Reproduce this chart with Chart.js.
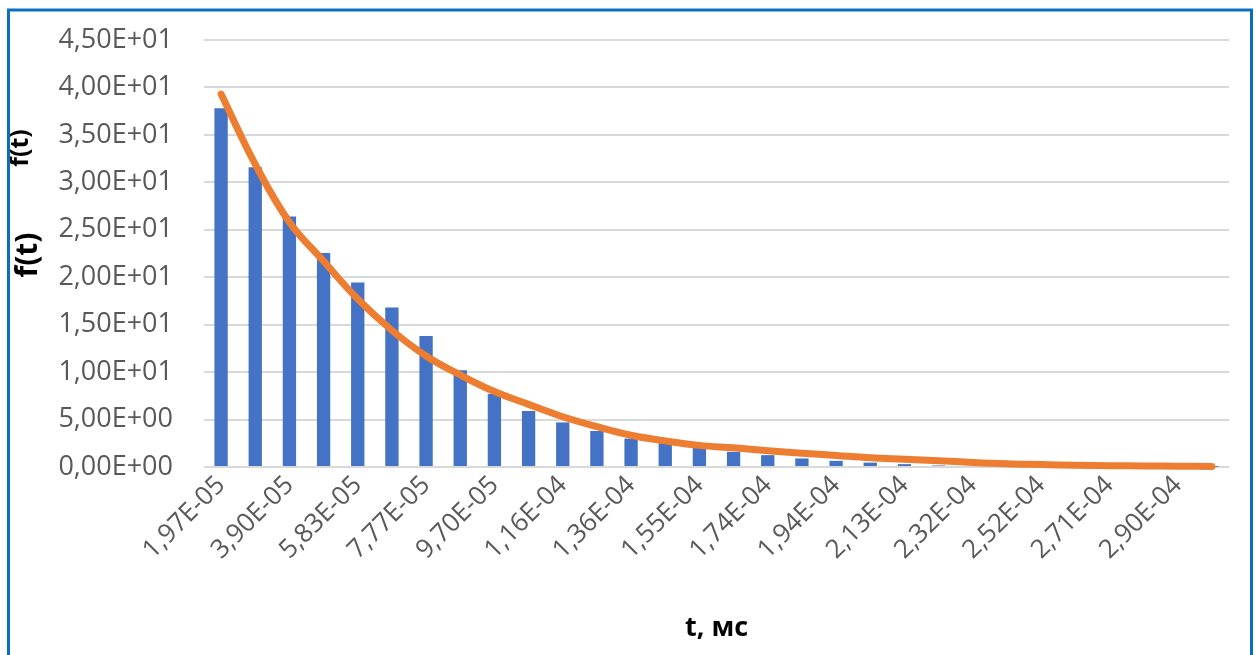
<!DOCTYPE html>
<html>
<head>
<meta charset="utf-8">
<script src="https://cdn.jsdelivr.net/npm/chart.js@4/dist/chart.umd.min.js"></script>
<style>
  html, body { margin: 0; padding: 0; background: #ffffff; }
  canvas { display: block; }
</style>
</head>
<body>
<canvas id="chart" width="1256" height="655"></canvas>
<script>
// Time samples t (ms), shown as axis categories
const tLabels = [
  '1,97E-05', '2,94E-05', '3,90E-05', '4,87E-05', '5,83E-05', '6,80E-05',
  '7,77E-05', '8,73E-05', '9,70E-05', '1,07E-04', '1,16E-04', '1,26E-04',
  '1,36E-04', '1,45E-04', '1,55E-04', '1,65E-04', '1,74E-04', '1,84E-04',
  '1,94E-04', '2,03E-04', '2,13E-04', '2,23E-04', '2,32E-04', '2,42E-04',
  '2,52E-04', '2,61E-04', '2,71E-04', '2,81E-04', '2,90E-04', '3,00E-04'
];

// Histogram of f(t)
const histValues = [
  37.8, 31.6, 26.4, 22.55, 19.45, 16.8, 13.8, 10.2, 7.7, 5.9,
  4.7, 3.8, 3.0, 2.5, 2.05, 1.6, 1.25, 0.9, 0.65, 0.46,
  0.3, 0.16, 0.12, 0.09, 0.07, 0.05, 0.04, 0.03, 0.02, 0.02
];

// Density curve f(t)
const curveValues = [
  39.3, 31.9, 25.8, 21.7, 17.7, 14.4, 11.7, 9.7, 7.95, 6.6,
  5.3, 4.25, 3.35, 2.75, 2.28, 2.02, 1.72, 1.46, 1.22, 0.98,
  0.82, 0.66, 0.48, 0.34, 0.26, 0.19, 0.14, 0.11, 0.08, 0.06
];

// Value axis: 0 .. 45 in steps of 5
const yMin = 0, yMax = 45, yStep = 5;

const FONT = '"Open Sans", "Liberation Sans", sans-serif';

// Excel-style scientific notation with a decimal comma: 4,50E+01
function sci(v) {
  const [m, e] = Number(v).toExponential(2).split('e');
  const n = parseInt(e, 10);
  const sign = n < 0 ? '-' : '+';
  return m.replace('.', ',') + 'E' + sign + String(Math.abs(n)).padStart(2, '0');
}

const decor = {
  id: 'decor',
  beforeDraw(chart) {
    const c = chart.ctx;
    c.save();
    c.fillStyle = '#ffffff';
    c.fillRect(0, 0, chart.width, chart.height);
    c.restore();
  },
  afterDraw(chart) {
    const c = chart.ctx;
    c.save();
    // vertical axis titles
    c.fillStyle = '#000000';
    c.textAlign = 'center';
    c.textBaseline = 'middle';
    c.font = 'bold 30px ' + FONT;
    c.translate(28, 255);
    c.rotate(-Math.PI / 2);
    c.fillText('f(t)', 0, 0);
    c.restore();

    c.save();
    c.fillStyle = '#000000';
    c.textAlign = 'center';
    c.textBaseline = 'middle';
    c.font = 'bold 25px ' + FONT;
    c.translate(21, 148);
    c.rotate(-Math.PI / 2);
    c.fillText('f(t)', 0, 0);
    c.restore();

    // horizontal axis title
    c.save();
    c.fillStyle = '#000000';
    c.textAlign = 'center';
    c.textBaseline = 'alphabetic';
    c.font = 'bold 27px ' + FONT;
    const a = chart.chartArea;
    c.fillText('t, мс', (a.left + a.right) / 2, 636);
    c.restore();

    // frame
    c.save();
    c.strokeStyle = '#0b6fc1';
    c.lineWidth = 3;
    c.strokeRect(8.5, 10, 1243, 700);
    c.restore();
  }
};

new Chart(document.getElementById('chart'), {
  data: {
    labels: tLabels,
    datasets: [
      {
        type: 'line',
        label: 'f(t)',
        data: curveValues,
        borderColor: '#ED7D31',
        backgroundColor: '#ED7D31',
        borderWidth: 7,
        borderCapStyle: 'round',
        borderJoinStyle: 'round',
        pointRadius: 0,
        tension: 0.4,
        clip: false,
        order: 0
      },
      {
        type: 'bar',
        label: 'f(t)',
        data: histValues,
        backgroundColor: '#4472C4',
        borderWidth: 0,
        barPercentage: 0.39,
        categoryPercentage: 1.0,
        order: 1
      }
    ]
  },
  options: {
    responsive: false,
    devicePixelRatio: 1,
    animation: false,
    layout: { padding: { left: 0, right: 27, top: 40, bottom: 0 } },
    plugins: {
      legend: { display: false },
      tooltip: { enabled: false }
    },
    scales: {
      x: {
        grid: { display: false },
        border: { display: false },
        ticks: {
          autoSkip: false,
          minRotation: 45,
          maxRotation: 45,
          padding: -5,
          color: '#595959',
          font: { family: FONT, size: 26 },
          callback: (v, i) => (i % 2 === 0 ? tLabels[i] : '')
        },
        afterFit(scale) { scale.height = 188; }
      },
      y: {
        min: yMin,
        max: yMax,
        grid: {
          color: '#d9d9d9',
          lineWidth: 2,
          drawTicks: true,
          tickLength: 24,
          tickColor: 'rgba(0,0,0,0)'
        },
        border: { display: false },
        ticks: {
          stepSize: yStep,
          padding: 7,
          color: '#595959',
          font: { family: FONT, size: 27 },
          callback: (v) => sci(v)
        },
        afterFit(scale) { scale.width = 204; }
      }
    }
  },
  plugins: [decor]
});
</script>
</body>
</html>
